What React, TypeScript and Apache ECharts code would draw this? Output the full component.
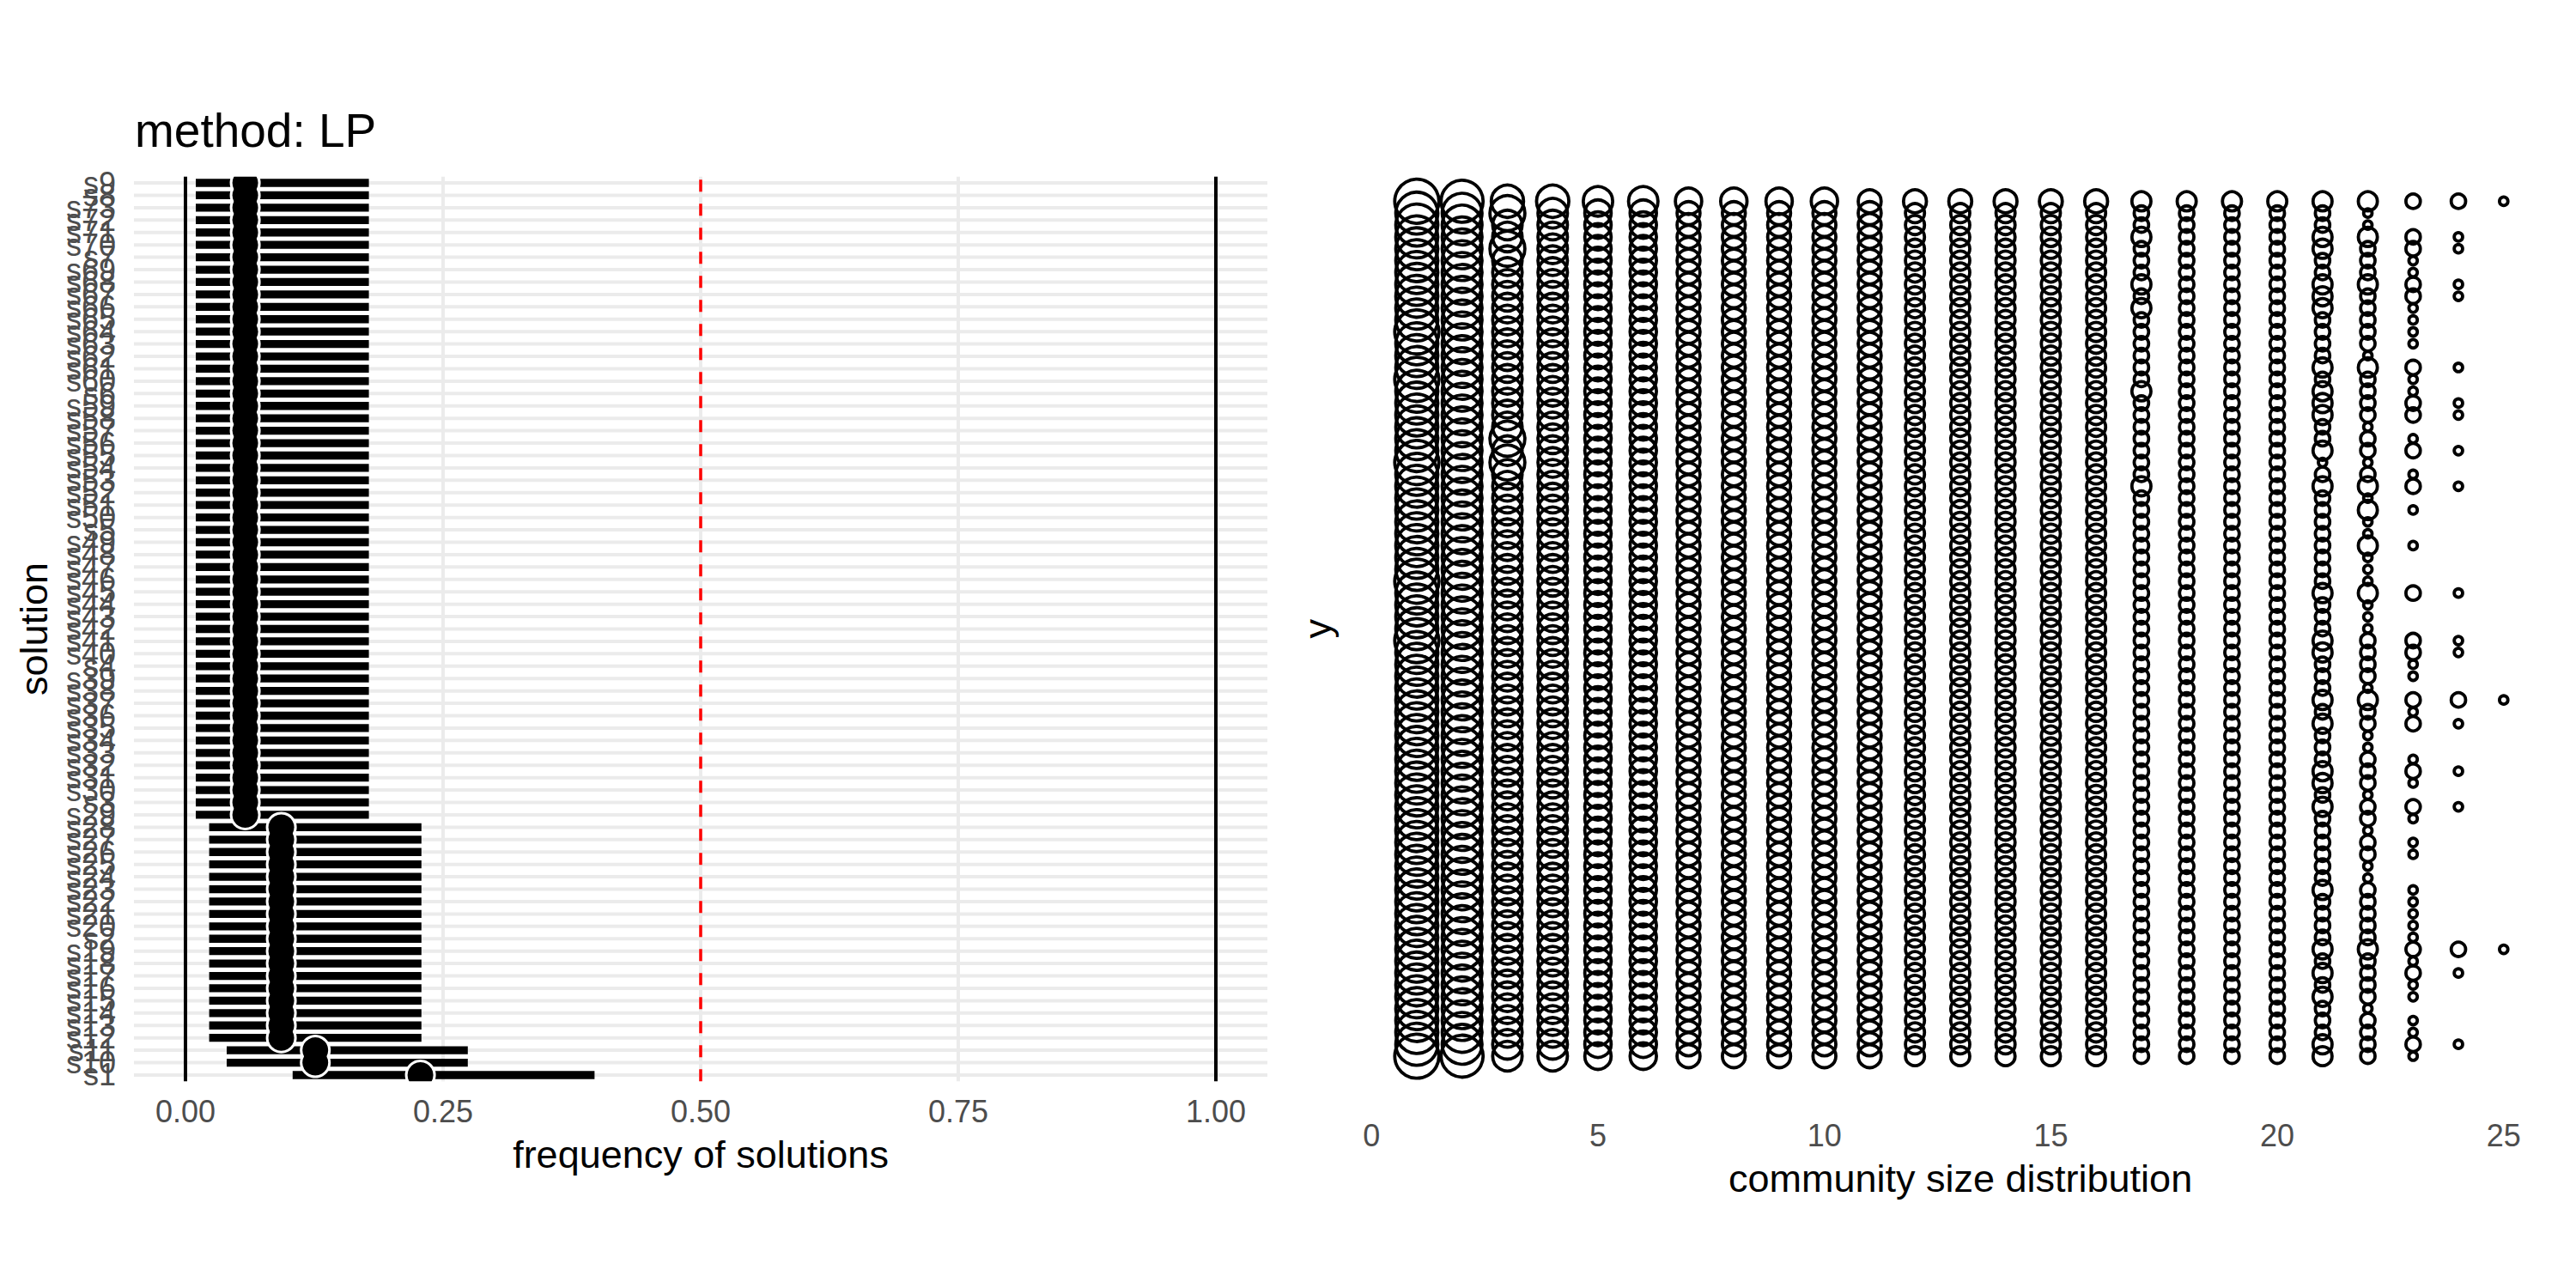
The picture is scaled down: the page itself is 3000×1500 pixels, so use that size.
import React, { useEffect, useRef } from 'react';
import * as echarts from 'echarts';

const FONT = '"Liberation Sans", Arial, Helvetica, sans-serif';

// ---------- left panel data ----------
const solutions = [
  's1', 's10', 's11', 's12', 's13', 's14', 's15', 's16', 's17', 's18', 's19',
  's2', 's20', 's21', 's22', 's23', 's24', 's25', 's26', 's27', 's28', 's29',
  's3', 's30', 's31', 's32', 's33', 's34', 's35', 's36', 's37', 's38', 's39',
  's4', 's40', 's41', 's42', 's43', 's44', 's45', 's46', 's47', 's48', 's49',
  's5', 's50', 's51', 's52', 's53', 's54', 's55', 's56', 's57', 's58', 's59',
  's6', 's60', 's61', 's62', 's63', 's64', 's65', 's66', 's67', 's68', 's69',
  's7', 's70', 's71', 's72', 's73', 's8', 's9',
];

const freqLow = [
  0.104, 0.040, 0.040,
  0.023, 0.023, 0.023, 0.023, 0.023, 0.023, 0.023, 0.023, 0.023,
  0.023, 0.023, 0.023, 0.023, 0.023, 0.023, 0.023, 0.023, 0.023,
  0.010, 0.010, 0.010, 0.010, 0.010, 0.010, 0.010, 0.010, 0.010, 0.010,
  0.010, 0.010, 0.010, 0.010, 0.010, 0.010, 0.010, 0.010, 0.010, 0.010,
  0.010, 0.010, 0.010, 0.010, 0.010, 0.010, 0.010, 0.010, 0.010, 0.010,
  0.010, 0.010, 0.010, 0.010, 0.010, 0.010, 0.010, 0.010, 0.010, 0.010,
  0.010, 0.010, 0.010, 0.010, 0.010, 0.010, 0.010, 0.010, 0.010, 0.010,
  0.010, 0.010,
];
const freqHigh = [
  0.397, 0.274, 0.274,
  0.229, 0.229, 0.229, 0.229, 0.229, 0.229, 0.229, 0.229, 0.229,
  0.229, 0.229, 0.229, 0.229, 0.229, 0.229, 0.229, 0.229, 0.229,
  0.178, 0.178, 0.178, 0.178, 0.178, 0.178, 0.178, 0.178, 0.178, 0.178,
  0.178, 0.178, 0.178, 0.178, 0.178, 0.178, 0.178, 0.178, 0.178, 0.178,
  0.178, 0.178, 0.178, 0.178, 0.178, 0.178, 0.178, 0.178, 0.178, 0.178,
  0.178, 0.178, 0.178, 0.178, 0.178, 0.178, 0.178, 0.178, 0.178, 0.178,
  0.178, 0.178, 0.178, 0.178, 0.178, 0.178, 0.178, 0.178, 0.178, 0.178,
  0.178, 0.178,
];
const freqMean = [
  0.228, 0.126, 0.126,
  0.093, 0.093, 0.093, 0.093, 0.093, 0.093, 0.093, 0.093, 0.093,
  0.093, 0.093, 0.093, 0.093, 0.093, 0.093, 0.093, 0.093, 0.093,
  0.058, 0.058, 0.058, 0.058, 0.058, 0.058, 0.058, 0.058, 0.058, 0.058,
  0.058, 0.058, 0.058, 0.058, 0.058, 0.058, 0.058, 0.058, 0.058, 0.058,
  0.058, 0.058, 0.058, 0.058, 0.058, 0.058, 0.058, 0.058, 0.058, 0.058,
  0.058, 0.058, 0.058, 0.058, 0.058, 0.058, 0.058, 0.058, 0.058, 0.058,
  0.058, 0.058, 0.058, 0.058, 0.058, 0.058, 0.058, 0.058, 0.058, 0.058,
  0.058, 0.058,
];
const boundaryLines = [0, 1];
const threshold = 0.5;
const freqTicks = { min: 0, max: 1, step: 0.25 };

// ---------- right panel data: count of communities of size k, per row (top -> bottom) ----------
const communitySizes = [1, 2, 3, 4, 5, 6, 7, 8, 9, 10, 11, 12, 13, 14, 15, 16, 17, 18, 19, 20, 21, 22, 23, 24, 25];
const sizeTicks = { min: 0, max: 25, step: 5 };

const k01 = [
  12, 11, 11, 11, 11, 11, 11, 11, 11, 11,
  11, 12, 11, 11, 11, 12, 11, 11, 11, 11,
  11, 11, 12, 11, 11, 11, 11, 11, 11, 11,
  11, 11, 12, 11, 11, 11, 11, 12, 11, 11,
  11, 11, 11, 11, 11, 11, 11, 11, 11, 11,
  11, 11, 11, 11, 11, 11, 11, 11, 11, 11,
  11, 11, 11, 11, 11, 11, 11, 11, 11, 11,
  11, 11, 12,
];
const k02 = [
  11, 10, 10, 10, 10, 10, 10, 10, 10, 10,
  10, 10, 10, 10, 10, 10, 10, 10, 10, 10,
  10, 10, 10, 10, 10, 10, 10, 10, 10, 10,
  10, 10, 10, 10, 10, 10, 10, 10, 10, 10,
  10, 10, 10, 10, 10, 10, 10, 10, 10, 10,
  10, 10, 10, 10, 10, 10, 10, 10, 10, 10,
  10, 10, 10, 10, 10, 10, 10, 10, 10, 10,
  10, 10, 11,
];
const k03 = [
  7, 8, 6, 6, 8, 6, 6, 6, 6, 6,
  6, 6, 6, 6, 6, 6, 6, 6, 6, 6,
  8, 6, 8, 6, 6, 6, 6, 6, 6, 6,
  6, 6, 6, 6, 6, 6, 6, 6, 6, 6,
  6, 6, 6, 6, 6, 6, 6, 6, 6, 6,
  6, 6, 6, 6, 6, 6, 6, 6, 6, 6,
  6, 6, 6, 6, 6, 6, 6, 6, 6, 6,
  6, 6, 6,
];
const k04 = [
  7, 6, 6, 6, 6, 6, 6, 6, 6, 6,
  6, 6, 6, 6, 6, 6, 6, 6, 6, 6,
  6, 6, 6, 6, 6, 6, 6, 6, 6, 6,
  6, 6, 6, 6, 6, 6, 6, 6, 6, 6,
  6, 6, 6, 6, 6, 6, 6, 6, 6, 6,
  6, 6, 6, 6, 6, 6, 6, 6, 6, 6,
  6, 6, 6, 6, 6, 6, 6, 6, 6, 6,
  6, 6, 6,
];
const k05 = [
  6, 5, 5, 5, 5, 5, 5, 5, 5, 5,
  5, 5, 5, 5, 5, 5, 5, 5, 5, 5,
  5, 5, 5, 5, 5, 5, 5, 5, 5, 5,
  5, 5, 5, 5, 5, 5, 5, 5, 5, 5,
  5, 5, 5, 5, 5, 5, 5, 5, 5, 5,
  5, 5, 5, 5, 5, 5, 5, 5, 5, 5,
  5, 5, 5, 5, 5, 5, 5, 5, 5, 5,
  5, 5, 5,
];
const k06 = [
  6, 5, 5, 5, 5, 5, 5, 5, 5, 5,
  5, 5, 5, 5, 5, 5, 5, 5, 5, 5,
  5, 5, 5, 5, 5, 5, 5, 5, 5, 5,
  5, 5, 5, 5, 5, 5, 5, 5, 5, 5,
  5, 5, 5, 5, 5, 5, 5, 5, 5, 5,
  5, 5, 5, 5, 5, 5, 5, 5, 5, 5,
  5, 5, 5, 5, 5, 5, 5, 5, 5, 5,
  5, 5, 5,
];
const k07 = [
  5, 4, 4, 4, 4, 4, 4, 4, 4, 4,
  4, 4, 4, 4, 4, 4, 4, 4, 4, 4,
  4, 4, 4, 4, 4, 4, 4, 4, 4, 4,
  4, 4, 4, 4, 4, 4, 4, 4, 4, 4,
  4, 4, 4, 4, 4, 4, 4, 4, 4, 4,
  4, 4, 4, 4, 4, 4, 4, 4, 4, 4,
  4, 4, 4, 4, 4, 4, 4, 4, 4, 4,
  4, 4, 4,
];
const k08 = [
  5, 4, 4, 4, 4, 4, 4, 4, 4, 4,
  4, 4, 4, 4, 4, 4, 4, 4, 4, 4,
  4, 4, 4, 4, 4, 4, 4, 4, 4, 4,
  4, 4, 4, 4, 4, 4, 4, 4, 4, 4,
  4, 4, 4, 4, 4, 4, 4, 4, 4, 4,
  4, 4, 4, 4, 4, 4, 4, 4, 4, 4,
  4, 4, 4, 4, 4, 4, 4, 4, 4, 4,
  4, 4, 4,
];
const k09 = [
  5, 4, 4, 4, 4, 4, 4, 4, 4, 4,
  4, 4, 4, 4, 4, 4, 4, 4, 4, 4,
  4, 4, 4, 4, 4, 4, 4, 4, 4, 4,
  4, 4, 4, 4, 4, 4, 4, 4, 4, 4,
  4, 4, 4, 4, 4, 4, 4, 4, 4, 4,
  4, 4, 4, 4, 4, 4, 4, 4, 4, 4,
  4, 4, 4, 4, 4, 4, 4, 4, 4, 4,
  4, 4, 4,
];
const k10 = [
  5, 4, 4, 4, 4, 4, 4, 4, 4, 4,
  4, 4, 4, 4, 4, 4, 4, 4, 4, 4,
  4, 4, 4, 4, 4, 4, 4, 4, 4, 4,
  4, 4, 4, 4, 4, 4, 4, 4, 4, 4,
  4, 4, 4, 4, 4, 4, 4, 4, 4, 4,
  4, 4, 4, 4, 4, 4, 4, 4, 4, 4,
  4, 4, 4, 4, 4, 4, 4, 4, 4, 4,
  4, 4, 4,
];
const k11 = [
  4, 4, 4, 4, 4, 4, 4, 4, 4, 4,
  4, 4, 4, 4, 4, 4, 4, 4, 4, 4,
  4, 4, 4, 4, 4, 4, 4, 4, 4, 4,
  4, 4, 4, 4, 4, 4, 4, 4, 4, 4,
  4, 4, 4, 4, 4, 4, 4, 4, 4, 4,
  4, 4, 4, 4, 4, 4, 4, 4, 4, 4,
  4, 4, 4, 4, 4, 4, 4, 4, 4, 4,
  4, 4, 4,
];
const k12 = [
  4, 3, 3, 3, 3, 3, 3, 3, 3, 3,
  3, 3, 3, 3, 3, 3, 3, 3, 3, 3,
  3, 3, 3, 3, 3, 3, 3, 3, 3, 3,
  3, 3, 3, 3, 3, 3, 3, 3, 3, 3,
  3, 3, 3, 3, 3, 3, 3, 3, 3, 3,
  3, 3, 3, 3, 3, 3, 3, 3, 3, 3,
  3, 3, 3, 3, 3, 3, 3, 3, 3, 3,
  3, 3, 3,
];
const k13 = [
  4, 3, 3, 3, 3, 3, 3, 3, 3, 3,
  3, 3, 3, 3, 3, 3, 3, 3, 3, 3,
  3, 3, 3, 3, 3, 3, 3, 3, 3, 3,
  3, 3, 3, 3, 3, 3, 3, 3, 3, 3,
  3, 3, 3, 3, 3, 3, 3, 3, 3, 3,
  3, 3, 3, 3, 3, 3, 3, 3, 3, 3,
  3, 3, 3, 3, 3, 3, 3, 3, 3, 3,
  3, 3, 3,
];
const k14 = [
  4, 3, 3, 3, 3, 3, 3, 3, 3, 3,
  3, 3, 3, 3, 3, 3, 3, 3, 3, 3,
  3, 3, 3, 3, 3, 3, 3, 3, 3, 3,
  3, 3, 3, 3, 3, 3, 3, 3, 3, 3,
  3, 3, 3, 3, 3, 3, 3, 3, 3, 3,
  3, 3, 3, 3, 3, 3, 3, 3, 3, 3,
  3, 3, 3, 3, 3, 3, 3, 3, 3, 3,
  3, 3, 3,
];
const k15 = [
  4, 3, 3, 3, 3, 3, 3, 3, 3, 3,
  3, 3, 3, 3, 3, 3, 3, 3, 3, 3,
  3, 3, 3, 3, 3, 3, 3, 3, 3, 3,
  3, 3, 3, 3, 3, 3, 3, 3, 3, 3,
  3, 3, 3, 3, 3, 3, 3, 3, 3, 3,
  3, 3, 3, 3, 3, 3, 3, 3, 3, 3,
  3, 3, 3, 3, 3, 3, 3, 3, 3, 3,
  3, 3, 3,
];
const k16 = [
  4, 3, 3, 3, 3, 3, 3, 3, 3, 3,
  3, 3, 3, 3, 3, 3, 3, 3, 3, 3,
  3, 3, 3, 3, 3, 3, 3, 3, 3, 3,
  3, 3, 3, 3, 3, 3, 3, 3, 3, 3,
  3, 3, 3, 3, 3, 3, 3, 3, 3, 3,
  3, 3, 3, 3, 3, 3, 3, 3, 3, 3,
  3, 3, 3, 3, 3, 3, 3, 3, 3, 3,
  3, 3, 3,
];
const k17 = [
  3, 2, 2, 3, 2, 2, 2, 3, 2, 3,
  2, 2, 2, 2, 2, 2, 3, 2, 2, 2,
  2, 2, 2, 2, 3, 2, 2, 2, 2, 2,
  2, 2, 2, 2, 2, 2, 2, 2, 2, 2,
  2, 2, 2, 2, 2, 2, 2, 2, 2, 2,
  2, 2, 2, 2, 2, 2, 2, 2, 2, 2,
  2, 2, 2, 2, 2, 2, 2, 2, 2, 2,
  2, 2, 2,
];
const k18 = [
  3, 2, 2, 2, 2, 2, 2, 2, 2, 2,
  2, 2, 2, 2, 2, 2, 2, 2, 2, 2,
  2, 2, 2, 2, 2, 2, 2, 2, 2, 2,
  2, 2, 2, 2, 2, 2, 2, 2, 2, 2,
  2, 2, 2, 2, 2, 2, 2, 2, 2, 2,
  2, 2, 2, 2, 2, 2, 2, 2, 2, 2,
  2, 2, 2, 2, 2, 2, 2, 2, 2, 2,
  2, 2, 2,
];
const k19 = [
  3, 2, 2, 2, 2, 2, 2, 2, 2, 2,
  2, 2, 2, 2, 2, 2, 2, 2, 2, 2,
  2, 2, 2, 2, 2, 2, 2, 2, 2, 2,
  2, 2, 2, 2, 2, 2, 2, 2, 2, 2,
  2, 2, 2, 2, 2, 2, 2, 2, 2, 2,
  2, 2, 2, 2, 2, 2, 2, 2, 2, 2,
  2, 2, 2, 2, 2, 2, 2, 2, 2, 2,
  2, 2, 2,
];
const k20 = [
  3, 2, 2, 2, 2, 2, 2, 2, 2, 2,
  2, 2, 2, 2, 2, 2, 2, 2, 2, 2,
  2, 2, 2, 2, 2, 2, 2, 2, 2, 2,
  2, 2, 2, 2, 2, 2, 2, 2, 2, 2,
  2, 2, 2, 2, 2, 2, 2, 2, 2, 2,
  2, 2, 2, 2, 2, 2, 2, 2, 2, 2,
  2, 2, 2, 2, 2, 2, 2, 2, 2, 2,
  2, 2, 2,
];
const k21 = [
  3, 2, 2, 3, 3, 2, 2, 3, 3, 3,
  2, 2, 2, 2, 3, 2, 3, 3, 3, 2,
  2, 3, 1, 2, 3, 2, 2, 2, 2, 2,
  2, 2, 2, 3, 2, 2, 2, 3, 3, 2,
  2, 2, 3, 2, 3, 2, 2, 2, 3, 3,
  2, 3, 2, 2, 2, 2, 2, 2, 3, 2,
  2, 2, 2, 3, 2, 3, 2, 3, 2, 2,
  2, 3, 3,
];
const k22 = [
  3, 1, 1, 3, 2, 2, 2, 3, 2, 2,
  2, 2, 2, 1, 3, 2, 2, 2, 2, 1,
  2, 2, 1, 2, 3, 1, 3, 1, 1, 3,
  1, 1, 1, 3, 1, 1, 1, 2, 2, 2,
  2, 1, 3, 2, 2, 1, 1, 2, 2, 2,
  1, 2, 2, 1, 2, 2, 1, 1, 2, 2,
  2, 2, 2, 3, 2, 2, 2, 2, 1, 2,
  2, 2, 2,
];
const k23 = [
  2, 0, 0, 2, 2, 1, 1, 2, 2, 1,
  1, 1, 1, 0, 2, 1, 1, 2, 2, 0,
  1, 2, 0, 1, 2, 0, 1, 0, 0, 1,
  0, 0, 0, 2, 0, 0, 0, 2, 2, 1,
  1, 0, 2, 1, 2, 0, 0, 1, 2, 1,
  0, 2, 1, 0, 1, 1, 0, 0, 1, 1,
  1, 1, 1, 2, 1, 2, 1, 1, 0, 1,
  1, 2, 1,
];
const k24 = [
  2, 0, 0, 1, 1, 0, 0, 1, 1, 0,
  0, 0, 0, 0, 1, 0, 0, 1, 1, 0,
  0, 1, 0, 0, 1, 0, 0, 0, 0, 0,
  0, 0, 0, 1, 0, 0, 0, 1, 1, 0,
  0, 0, 2, 0, 1, 0, 0, 0, 1, 0,
  0, 1, 0, 0, 0, 0, 0, 0, 0, 0,
  0, 0, 0, 2, 0, 1, 0, 0, 0, 0,
  0, 1, 0,
];
const k25 = [
  1, 0, 0, 0, 0, 0, 0, 0, 0, 0,
  0, 0, 0, 0, 0, 0, 0, 0, 0, 0,
  0, 0, 0, 0, 0, 0, 0, 0, 0, 0,
  0, 0, 0, 0, 0, 0, 0, 0, 0, 0,
  0, 0, 1, 0, 0, 0, 0, 0, 0, 0,
  0, 0, 0, 0, 0, 0, 0, 0, 0, 0,
  0, 0, 0, 1, 0, 0, 0, 0, 0, 0,
  0, 0, 0,
];
const countsBySize = [
  k01, k02, k03, k04, k05, k06, k07, k08, k09, k10, k11, k12, k13,
  k14, k15, k16, k17, k18, k19, k20, k21, k22, k23, k24, k25,
];

function buildOption() {
  const barData = solutions.map((_, i) => [freqLow[i], freqHigh[i], i]);
  const meanData = solutions.map((_, i) => [freqMean[i], i]);

  const bubbleData: number[][] = [];
  communitySizes.forEach((k, ci) => {
    countsBySize[ci].forEach((v, r) => {
      if (v > 0) bubbleData.push([k, r + 1, v]);
    });
  });
  const nRows = k01.length;

  const BAR_H = 9.3;
  const STROKE = 3.8;

  const dot = (radius: number, fill: string) => (params: any, api: any) => {
    const p = api.coord([api.value(0), api.value(1)]);
    return {
      type: 'circle',
      shape: { cx: p[0], cy: p[1], r: radius },
      style: { fill },
    };
  };

  return {
    animation: false,
    backgroundColor: '#ffffff',
    textStyle: { fontFamily: FONT },
    title: {
      text: 'method: LP',
      left: 157,
      top: 124,
      padding: 0,
      textStyle: { fontFamily: FONT, fontSize: 55, fontWeight: 'normal', color: '#000000' },
    },
    grid: [
      { left: 216, right: 1584, top: 205.8, bottom: 240.8 },
      { left: 1597.3, right: 84.2, top: 234.4, bottom: 270 },
    ],
    xAxis: [
      {
        gridIndex: 0,
        type: 'value',
        min: freqTicks.min,
        max: freqTicks.max,
        interval: freqTicks.step,
        axisLine: { show: false },
        axisTick: { show: false },
        axisLabel: {
          formatter: (v: number) => v.toFixed(2),
          fontFamily: FONT,
          fontSize: 36,
          color: '#4D4D4D',
          margin: 17,
        },
        splitLine: { show: true, lineStyle: { color: '#EBEBEB', width: 4 } },
        name: 'frequency of solutions',
        nameLocation: 'middle',
        nameGap: 63,
        nameTextStyle: { fontFamily: FONT, fontSize: 45, color: '#000000' },
      },
      {
        gridIndex: 1,
        type: 'value',
        min: sizeTicks.min,
        max: sizeTicks.max,
        interval: sizeTicks.step,
        axisLine: { show: false },
        axisTick: { show: false },
        splitLine: { show: false },
        axisLabel: { fontFamily: FONT, fontSize: 36, color: '#4D4D4D', margin: 74 },
        name: 'community size distribution',
        nameLocation: 'middle',
        nameGap: 120,
        nameTextStyle: { fontFamily: FONT, fontSize: 45, color: '#000000', padding: [0, 0, 0, 53] },
      },
    ],
    yAxis: [
      {
        gridIndex: 0,
        type: 'category',
        data: solutions,
        axisLine: { show: false },
        axisTick: { show: false },
        splitLine: { show: false },
        axisLabel: { interval: 0, fontFamily: FONT, fontSize: 36, color: '#4D4D4D', margin: 81 },
        name: 'solution',
        nameLocation: 'middle',
        nameGap: 154,
        nameTextStyle: { fontFamily: FONT, fontSize: 45, color: '#000000' },
      },
      {
        gridIndex: 1,
        type: 'value',
        min: 1,
        max: nRows,
        inverse: true,
        axisLine: { show: false },
        axisTick: { show: false },
        axisLabel: { show: false },
        splitLine: { show: false },
        name: 'y',
        nameLocation: 'middle',
        nameGap: 40,
        nameTextStyle: { fontFamily: FONT, fontSize: 45, color: '#000000' },
      },
    ],
    series: [
      {
        type: 'custom',
        name: 'range',
        xAxisIndex: 0,
        yAxisIndex: 0,
        encode: { x: [0, 1], y: 2 },
        data: barData,
        z: 2,
        silent: true,
        renderItem: (params: any, api: any) => {
          const cs = params.coordSys;
          const lo = api.coord([api.value(0), api.value(2)]);
          const hi = api.coord([api.value(1), api.value(2)]);
          const yc = lo[1];
          return {
            type: 'group',
            children: [
              {
                type: 'line',
                shape: { x1: cs.x - 0.05 * cs.width, y1: yc, x2: cs.x + 1.05 * cs.width, y2: yc },
                style: { stroke: '#EBEBEB', lineWidth: 4 },
              },
              {
                type: 'rect',
                shape: { x: lo[0], y: yc - BAR_H / 2, width: hi[0] - lo[0], height: BAR_H },
                style: { fill: '#000000' },
              },
            ],
          };
        },
      },
      {
        type: 'custom',
        name: 'halo',
        xAxisIndex: 0,
        yAxisIndex: 0,
        encode: { x: 0, y: 1 },
        data: meanData,
        clip: true,
        z: 3,
        silent: true,
        renderItem: dot(18, '#ffffff'),
      },
      {
        type: 'custom',
        name: 'mean',
        xAxisIndex: 0,
        yAxisIndex: 0,
        encode: { x: 0, y: 1 },
        data: meanData,
        clip: true,
        z: 4,
        silent: true,
        renderItem: dot(15, '#000000'),
      },
      {
        type: 'scatter',
        name: 'reference lines',
        xAxisIndex: 0,
        yAxisIndex: 0,
        data: meanData,
        symbol: 'none',
        silent: true,
        z: 5,
        markLine: {
          silent: true,
          symbol: ['none', 'none'],
          label: { show: false },
          data: [
            ...boundaryLines.map((b) => ({
              xAxis: b,
              lineStyle: { color: '#000000', width: 4, type: 'solid', opacity: 1 },
            })),
            { xAxis: threshold, lineStyle: { color: '#FF0000', width: 3.5, type: [14, 14], opacity: 1 } },
          ],
        },
      },
      {
        type: 'scatter',
        name: 'communities',
        xAxisIndex: 1,
        yAxisIndex: 1,
        data: bubbleData,
        symbol: 'circle',
        symbolSize: (val: number[]) => 16.9 * Math.sqrt(val[2]) - 3.9 - STROKE + 0.6,
        itemStyle: { color: 'rgba(0,0,0,0)', borderColor: '#000000', borderWidth: STROKE, opacity: 1 },
        clip: false,
        large: false,
        progressive: 0,
        silent: true,
        z: 2,
      },
    ],
  };
}

export default function App() {
  const ref = useRef<HTMLDivElement>(null);
  useEffect(() => {
    if (!ref.current) return;
    const chart = echarts.init(ref.current, undefined, { renderer: 'svg' });
    chart.setOption(buildOption() as any);
    return () => chart.dispose();
  }, []);
  return (
    <div
      ref={ref}
      style={{ position: 'fixed', left: 0, top: 0, width: 3000, height: 1500, background: '#ffffff' }}
    />
  );
}
